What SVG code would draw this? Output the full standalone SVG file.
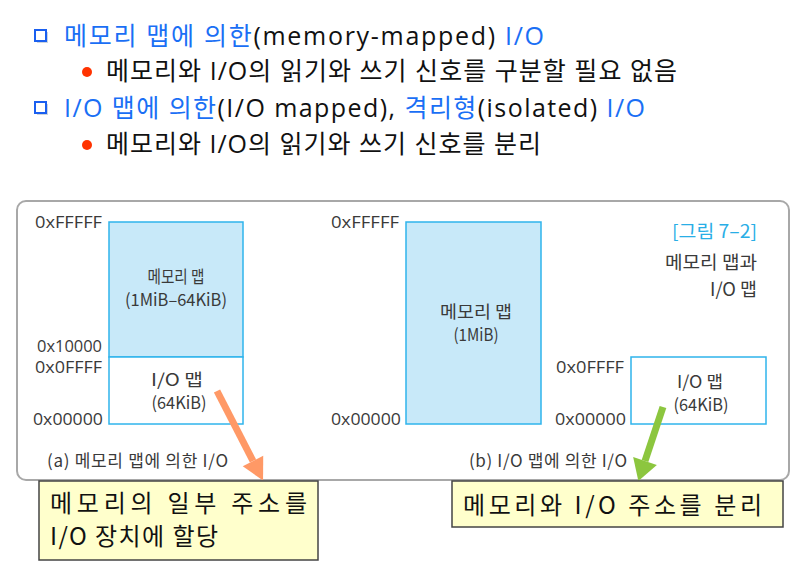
<svg xmlns="http://www.w3.org/2000/svg" width="808" height="569" viewBox="0 0 808 569">
<style>
.top{font-family:"Open Sans","Noto Sans CJK KR",sans-serif;font-size:25px;fill:#111;}
.blue{fill:#1a6ff5;}
.sub{font-family:"Open Sans","Noto Sans CJK KR",sans-serif;font-size:25px;fill:#111;}
.lbl{font-family:"Noto Sans CJK KR","Noto Sans",sans-serif;font-size:17px;fill:#3a3a3a;}
.hex{font-family:"Open Sans","Noto Sans CJK KR",sans-serif;font-size:17px;fill:#3a3a3a;text-anchor:end;}
.mid{text-anchor:middle;}
.map{fill:#c8e9f9;stroke:#2fb4ec;stroke-width:1.5;}
.iomap{fill:#ffffff;stroke:#2fb4ec;stroke-width:1.5;}
.note{fill:#ffffcc;stroke:#444;stroke-width:1.5;}
.notet{font-family:"Noto Sans CJK KR","Noto Sans",sans-serif;font-size:24px;fill:#111;}
</style>
<defs>
<marker id="hOrange" markerUnits="userSpaceOnUse" markerWidth="24" markerHeight="26" refX="0" refY="12" orient="auto" overflow="visible"><path d="M0,0.5 L22,12 L0,23.5 z" fill="#ff9966"/></marker>
<marker id="hGreen" markerUnits="userSpaceOnUse" markerWidth="24" markerHeight="26" refX="0" refY="12" orient="auto" overflow="visible"><path d="M0,-0.5 L21,12 L0,24.5 z" fill="#8cc63f"/></marker>
</defs>

<g id="bullets">
<rect x="37" y="32" width="11" height="11" fill="#9ab" opacity="0.5"/>
<rect x="35" y="30" width="11" height="11" fill="#fff" stroke="#1a5ff0" stroke-width="2"/>
<rect x="37" y="104" width="11" height="11" fill="#9ab" opacity="0.5"/>
<rect x="35" y="102" width="11" height="11" fill="#fff" stroke="#1a5ff0" stroke-width="2"/>
<circle cx="87" cy="72" r="5" fill="#ff3300"/>
<circle cx="87" cy="145" r="5" fill="#ff3300"/>
</g>
<g id="toptext">
<text class="top" x="64" y="45" textLength="480" lengthAdjust="spacing"><tspan class="blue">메모리 맵에 의한</tspan>(memory-mapped) <tspan class="blue">I/O</tspan></text>
<text class="sub" x="106" y="80" textLength="571" lengthAdjust="spacing">메모리와 I/O의 읽기와 쓰기 신호를 구분할 필요 없음</text>
<text class="top" x="64" y="117" textLength="581" lengthAdjust="spacing"><tspan class="blue">I/O 맵에 의한</tspan>(I/O mapped), <tspan class="blue">격리형</tspan>(isolated) <tspan class="blue">I/O</tspan></text>
<text class="sub" x="106" y="153" textLength="435" lengthAdjust="spacing">메모리와 I/O의 읽기와 쓰기 신호를 분리</text>
</g>

<g id="frame">
<rect x="17" y="201" width="772" height="279" rx="9" fill="#fff" stroke="#a8a8a8" stroke-width="2"/>
</g>

<g id="memmapped">
<rect class="map" x="109" y="222" width="134" height="135"/>
<rect class="iomap" x="109" y="357" width="134" height="67"/>
<text class="lbl mid" x="176" y="283" textLength="57" lengthAdjust="spacingAndGlyphs">메모리 맵</text>
<text class="lbl mid" x="176" y="306" textLength="102" lengthAdjust="spacingAndGlyphs">(1MiB–64KiB)</text>
<text class="lbl mid" x="177" y="386" textLength="52" lengthAdjust="spacingAndGlyphs">I/O 맵</text>
<text class="lbl mid" x="179" y="409" textLength="55" lengthAdjust="spacingAndGlyphs">(64KiB)</text>
<text class="hex" x="102" y="228" textLength="67" lengthAdjust="spacingAndGlyphs">0xFFFFF</text>
<text class="hex" x="102" y="352" textLength="65" lengthAdjust="spacingAndGlyphs">0x10000</text>
<text class="hex" x="102" y="373" textLength="67" lengthAdjust="spacingAndGlyphs">0x0FFFF</text>
<text class="hex" x="103" y="425" textLength="70" lengthAdjust="spacingAndGlyphs">0x00000</text>
<text class="lbl" x="47" y="467" textLength="181" lengthAdjust="spacing">(a) 메모리 맵에 의한 I/O</text>
</g>

<g id="iomapped-mem">
<rect class="map" x="406" y="222" width="135" height="202"/>
<text class="lbl mid" x="476" y="318" textLength="72" lengthAdjust="spacingAndGlyphs">메모리 맵</text>
<text class="lbl mid" x="476" y="341" textLength="45" lengthAdjust="spacingAndGlyphs">(1MiB)</text>
<text class="hex" x="399" y="228" textLength="68" lengthAdjust="spacingAndGlyphs">0xFFFFF</text>
<text class="hex" x="401" y="425" textLength="70" lengthAdjust="spacingAndGlyphs">0x00000</text>
</g>

<g id="iomapped-io">
<rect class="iomap" x="631" y="357" width="135" height="67"/>
<text class="lbl mid" x="700" y="388" textLength="46" lengthAdjust="spacingAndGlyphs">I/O 맵</text>
<text class="lbl mid" x="701" y="411" textLength="55" lengthAdjust="spacingAndGlyphs">(64KiB)</text>
<text class="hex" x="624" y="373" textLength="68" lengthAdjust="spacingAndGlyphs">0x0FFFF</text>
<text class="hex" x="626" y="425" textLength="71" lengthAdjust="spacingAndGlyphs">0x00000</text>
<text class="lbl" x="469" y="467" textLength="158" lengthAdjust="spacing">(b) I/O 맵에 의한 I/O</text>
</g>

<g id="caption">
<text class="lbl" x="757" y="238" text-anchor="end" textLength="85" lengthAdjust="spacingAndGlyphs" style="font-size:18px;fill:#29aee6">[그림 7–2]</text>
<text class="lbl" x="757" y="269" text-anchor="end" textLength="92" lengthAdjust="spacingAndGlyphs" style="font-size:18px">메모리 맵과</text>
<text class="lbl" x="757" y="296" text-anchor="end" textLength="47" lengthAdjust="spacingAndGlyphs" style="font-size:18px">I/O 맵</text>
</g>

<g id="connectors">
<line x1="217" y1="391" x2="253" y2="461" stroke="#ff9966" stroke-width="7" marker-end="url(#hOrange)"/>
<line x1="663" y1="407" x2="645" y2="461" stroke="#8cc63f" stroke-width="7" marker-end="url(#hGreen)"/>
</g>

<g id="note1">
<rect class="note" x="39" y="481" width="279" height="79"/>
<text class="notet" x="50" y="512" textLength="257" lengthAdjust="spacing">메모리의 일부 주소를</text>
<text class="notet" x="50" y="545" textLength="168" lengthAdjust="spacing">I/O 장치에 할당</text>
</g>

<g id="note2">
<rect class="note" x="452" y="481" width="331" height="46"/>
<text class="notet" x="463" y="514" textLength="299" lengthAdjust="spacing">메모리와 I/O 주소를 분리</text>
</g>
</svg>
